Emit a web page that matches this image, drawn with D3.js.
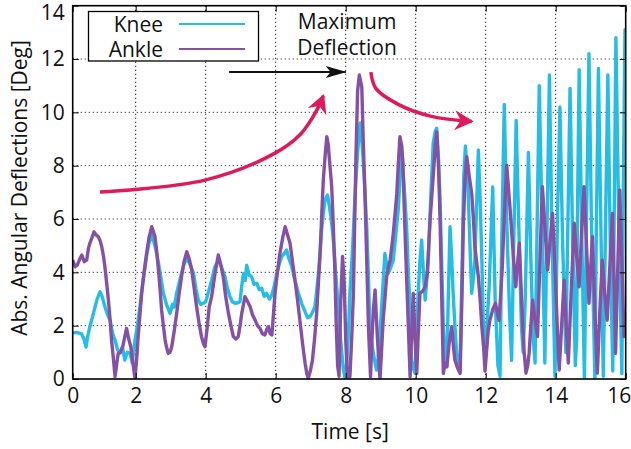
<!DOCTYPE html>
<html>
<head>
<meta charset="utf-8">
<script src="https://cdn.jsdelivr.net/npm/d3@7"></script>
<style>
  body { margin: 0; background: #fff; }
  svg { font-family: "Open Sans", Lato, sans-serif; }
</style>
</head>
<body>
<div id="chart"></div>
<script>
// time [s], angle [deg]
const knee = [
  [0.2,1.72],[0.3,1.75],[0.45,1.7],[0.52,1.5],[0.58,1.2],[0.63,1.6],[0.69,1.96],[0.76,2.3],[0.84,2.71],[0.9,3.0],
  [0.98,3.27],[1.04,3.1],[1.12,2.71],[1.2,2.4],[1.27,2.2],[1.34,1.7],[1.41,1.46],[1.48,1.1],[1.55,0.97],[1.62,1.2],
  [1.69,0.71],[1.76,1.0],[1.84,0.97],[1.9,0.6],[1.98,1.46],[2.05,2.0],[2.12,2.71],[2.2,3.6],[2.31,4.59],[2.38,5.1],
  [2.46,5.4],[2.55,5.0],[2.65,4.35],[2.72,3.8],[2.79,3.22],[2.88,2.8],[2.98,2.46],[3.05,2.8],[3.1,2.7],[3.17,3.22],
  [3.24,3.6],[3.31,3.97],[3.38,4.3],[3.46,4.53],[3.55,4.3],[3.65,3.97],[3.72,3.4],[3.79,2.96],[3.86,2.8],[3.93,2.84],
  [4.0,2.9],[4.07,3.22],[4.17,3.71],[4.26,4.2],[4.36,4.46],[4.45,4.2],[4.55,3.84],[4.62,3.4],[4.69,3.09],[4.76,2.9],
  [4.84,2.84],[4.92,2.86],[4.98,2.9],[5.03,3.5],[5.08,3.96],[5.13,3.7],[5.17,4.27],[5.24,3.9],[5.31,3.84],[5.38,3.55],
  [5.46,3.59],[5.53,3.35],[5.6,3.4],[5.67,3.1],[5.74,3.21],[5.82,3.0],[5.89,3.15],[5.96,3.5],[6.03,3.96],[6.1,4.3],
  [6.17,4.59],[6.24,4.7],[6.31,4.84],[6.38,4.5],[6.46,4.21],[6.55,3.7],[6.65,3.21],[6.75,2.8],[6.84,2.52],[6.91,2.3],
  [6.98,2.34],[7.05,2.5],[7.12,2.71],[7.17,3.3],[7.22,3.96],[7.27,4.8],[7.31,5.59],[7.36,6.2],[7.41,6.71],[7.48,6.9],
  [7.53,6.5],[7.58,6.09],[7.64,5.3],[7.69,4.46],[7.74,3.5],[7.79,2.71],[7.84,1.7],[7.89,0.96],[7.93,0.4],[7.98,0.04],
  [8.03,0.6],[8.08,1.8],[8.12,3.2],[8.2,5.0],[8.27,6.96],[8.34,8.5],[8.41,9.6],[8.46,9.0],[8.5,8.2],[8.55,7.0],
  [8.6,5.71],[8.65,3.8],[8.69,1.96],[8.74,1.4],[8.79,0.96],[8.84,0.6],[8.88,0.34],[8.93,0.8],[8.98,1.72],[9.05,3.2],
  [9.12,4.71],[9.17,4.3],[9.22,3.97],[9.29,4.2],[9.36,4.46],[9.43,5.4],[9.5,6.34],[9.55,7.5],[9.6,8.77],[9.64,7.8],
  [9.69,6.8],[9.74,5.71],[9.79,4.0],[9.84,2.59],[9.88,0.71],[9.93,0.4],[9.98,0.22],[10.03,1.8],[10.07,3.21],[10.12,4.4],
  [10.17,5.21],[10.22,4.0],[10.27,2.96],[10.31,3.6],[10.36,4.46],[10.43,6.8],[10.5,8.84],[10.56,9.3],[10.6,9.4],[10.65,8.3],
  [10.69,6.96],[10.74,4.5],[10.79,1.96],[10.84,0.9],[10.89,0.46],[10.93,3.0],[10.98,5.71],[11.03,4.5],[11.07,3.21],[11.12,2.0],
  [11.17,0.96],[11.22,0.6],[11.27,0.71],[11.33,4.5],[11.37,7.5],[11.42,8.74],[11.46,8.0],[11.5,6.96],[11.55,5.0],[11.6,3.21],
  [11.65,3.8],[11.69,4.46],[11.74,6.5],[11.79,8.59],[11.84,6.8],[11.89,4.46],[11.93,2.2],[11.98,0.7],[12.1,3.5],[12.2,7.2],
  [12.27,3.0],[12.35,0.5],[12.41,0.1],[12.45,4.5],[12.53,10.3],[12.6,6.0],[12.68,2.5],[12.74,0.7],[12.8,5.0],[12.87,9.7],
  [12.95,5.5],[13.02,2.0],[13.07,1.0],[13.13,3.0],[13.22,8.5],[13.3,4.0],[13.36,1.5],[13.41,0.6],[13.46,5.0],[13.53,11.0],
  [13.6,6.5],[13.69,0.6],[13.75,5.5],[13.82,11.4],[13.9,5.0],[13.98,0.1],[14.05,6.0],[14.12,10.2],[14.2,5.0],[14.29,1.0],
  [14.35,6.0],[14.41,10.9],[14.48,5.5],[14.56,0.5],[14.6,1.5],[14.62,6.0],[14.67,11.6],[14.75,5.0],[14.82,0.0],[14.88,6.0],
  [14.95,12.2],[15.02,6.0],[15.12,0.0],[15.16,5.5],[15.22,11.65],[15.3,5.0],[15.36,0.1],[15.42,5.5],[15.49,11.4],[15.56,5.0],
  [15.63,0.3],[15.67,6.0],[15.72,12.8],[15.8,6.0],[15.89,0.2],[15.93,7.0],[15.98,13.1],[16.0,9.0]
];

const ankle = [
  [0.2,4.46],[0.27,4.21],[0.33,4.27],[0.4,4.5],[0.46,4.65],[0.53,4.4],[0.6,4.46],[0.65,4.9],[0.69,5.09],[0.75,5.3],
  [0.81,5.52],[0.87,5.4],[0.93,5.34],[0.98,5.2],[1.03,4.96],[1.08,4.6],[1.12,4.21],[1.17,3.6],[1.22,2.96],[1.27,2.2],
  [1.31,1.46],[1.36,0.8],[1.41,0.09],[1.46,0.6],[1.5,0.96],[1.56,1.0],[1.63,1.21],[1.69,1.6],[1.74,1.9],[1.8,1.5],
  [1.86,1.21],[1.92,0.6],[1.98,0.03],[2.03,0.8],[2.07,1.59],[2.12,2.4],[2.17,3.21],[2.24,4.0],[2.31,4.71],[2.38,5.3],
  [2.46,5.71],[2.55,5.34],[2.6,4.8],[2.65,4.09],[2.7,3.3],[2.74,2.59],[2.79,2.0],[2.84,1.46],[2.88,1.2],[2.93,0.96],
  [2.98,1.0],[3.03,1.21],[3.1,1.8],[3.17,2.46],[3.24,3.2],[3.31,3.84],[3.38,4.4],[3.46,4.77],[3.53,4.5],[3.6,4.09],
  [3.67,3.4],[3.74,2.71],[3.81,2.1],[3.88,1.59],[3.93,1.35],[3.98,1.21],[4.04,1.9],[4.1,2.71],[4.17,3.09],[4.26,3.9],
  [4.36,4.65],[4.43,4.3],[4.5,3.84],[4.57,3.1],[4.65,2.46],[4.72,2.0],[4.79,1.59],[4.86,1.5],[4.93,1.59],[4.98,2.0],
  [5.03,2.46],[5.08,2.8],[5.12,3.09],[5.2,2.9],[5.27,2.71],[5.34,2.4],[5.41,2.21],[5.48,2.0],[5.55,1.9],[5.62,1.7],
  [5.69,1.65],[5.74,1.85],[5.79,1.96],[5.84,1.7],[5.89,1.65],[5.94,2.5],[5.98,3.21],[6.05,4.0],[6.12,4.71],[6.2,5.3],
  [6.27,5.71],[6.34,5.4],[6.41,5.09],[6.48,4.4],[6.55,3.71],[6.62,3.0],[6.69,2.21],[6.77,1.3],[6.84,0.59],[6.89,0.2],
  [6.93,0.03],[6.99,0.3],[7.05,0.71],[7.11,1.5],[7.17,2.46],[7.22,3.6],[7.27,4.71],[7.31,6.0],[7.36,7.46],[7.42,8.5],
  [7.46,9.09],[7.5,8.8],[7.55,8.0],[7.6,7.21],[7.65,5.6],[7.69,4.09],[7.73,2.0],[7.77,0.5],[7.81,0.1],[7.86,3.0],
  [7.91,4.6],[7.96,3.5],[8.0,1.5],[8.04,0.3],[8.08,0.0],[8.12,0.09],[8.17,1.5],[8.22,3.21],[8.29,8.21],[8.34,10.8],
  [8.39,11.4],[8.46,10.96],[8.5,9.0],[8.55,6.96],[8.6,4.5],[8.65,1.96],[8.71,0.09],[8.75,1.5],[8.79,2.59],[8.84,3.34],
  [8.87,2.5],[8.9,1.71],[8.94,0.8],[8.98,0.0],[9.03,1.2],[9.07,2.21],[9.12,3.0],[9.17,3.84],[9.22,4.2],[9.27,4.46],
  [9.32,5.0],[9.36,5.46],[9.41,6.2],[9.46,6.96],[9.5,8.0],[9.55,9.09],[9.59,8.8],[9.63,8.21],[9.69,5.71],[9.74,3.8],
  [9.79,1.96],[9.84,0.09],[9.88,1.5],[9.93,3.21],[9.98,1.5],[10.03,0.21],[10.07,1.6],[10.12,3.21],[10.2,3.3],[10.27,3.46],
  [10.33,3.96],[10.41,5.96],[10.5,7.59],[10.56,8.8],[10.6,9.27],[10.65,8.0],[10.69,6.34],[10.74,3.3],[10.79,0.21],[10.84,0.6],
  [10.89,0.46],[10.96,1.4],[11.03,1.96],[11.08,1.2],[11.12,0.71],[11.2,0.4],[11.27,0.21],[11.32,3.0],[11.36,5.71],[11.41,7.5],
  [11.46,8.34],[11.53,7.6],[11.6,6.96],[11.65,6.0],[11.69,4.96],[11.74,4.4],[11.79,3.84],[11.84,3.0],[11.89,1.96],[11.94,1.2],
  [11.98,0.3],[12.02,0.96],[12.07,1.8],[12.12,2.21],[12.2,2.6],[12.28,2.84],[12.33,2.5],[12.38,2.2],[12.43,3.2],[12.47,4.09],
  [12.53,6.0],[12.6,8.02],[12.66,7.0],[12.72,5.96],[12.79,4.6],[12.86,3.46],[12.91,4.3],[12.96,5.09],[13.0,3.8],[13.05,2.2],
  [13.1,1.0],[13.15,0.22],[13.2,0.5],[13.24,0.96],[13.29,2.0],[13.34,2.96],[13.41,2.2],[13.48,1.59],[13.55,4.5],[13.62,7.21],
  [13.7,5.5],[13.77,4.09],[13.84,5.2],[13.91,6.21],[13.96,4.8],[14.0,3.46],[14.05,1.8],[14.1,0.34],[14.17,2.0],[14.24,3.71],
  [14.3,2.0],[14.36,0.6],[14.45,3.5],[14.53,5.84],[14.6,4.6],[14.67,3.46],[14.74,5.5],[14.81,7.21],[14.88,5.0],[14.95,2.84],
  [15.0,4.2],[15.05,5.34],[15.12,2.5],[15.19,0.22],[15.26,2.5],[15.33,4.46],[15.4,3.2],[15.47,2.21],[15.55,4.3],[15.62,6.21],
  [15.67,3.5],[15.71,0.96],[15.77,4.0],[15.83,7.09],[15.9,4.0],[15.95,1.59],[16.0,2.46]
];

const seriesNames = ["Knee", "Ankle"];
const seriesColors = ["#25bde4", "#8451a4"];
const xTicks = [0.2, 2, 4, 6, 8, 10, 12, 14, 16];   // left edge carries the "0" label
const yTicks = [0, 2, 4, 6, 8, 10, 12, 14];
const xGrid = [2, 4, 6, 8, 10, 12, 14];
const yGrid = [2, 4, 6, 8, 10, 12];

const width = 631, height = 449;
const plot = { left: 72.7, right: 625.7, top: 5.7, bottom: 379 };

const svg = d3.select("#chart").append("svg")
    .attr("width", width)
    .attr("height", height);

const x = d3.scaleLinear().domain([0.2, 16]).range([plot.left, plot.right]);
const y = d3.scaleLinear().domain([0, 14]).range([plot.bottom, plot.top]);

// grid
svg.append("g").selectAll("line").data(xGrid).enter().append("line")
    .attr("x1", d => x(d)).attr("x2", d => x(d))
    .attr("y1", plot.top).attr("y2", plot.bottom)
    .attr("stroke", "#222").attr("stroke-width", 1)
    .attr("stroke-dasharray", "1.3,2.7");
svg.append("g").selectAll("line").data(yGrid).enter().append("line")
    .attr("x1", plot.left).attr("x2", plot.right)
    .attr("y1", d => y(d)).attr("y2", d => y(d))
    .attr("stroke", "#444").attr("stroke-width", 1)
    .attr("stroke-dasharray", "1.3,2.7");

// data lines
const line = d3.line().x(d => x(d[0])).y(d => y(d[1]));
svg.append("defs").append("clipPath").attr("id", "clip")
    .append("rect")
    .attr("x", plot.left).attr("y", plot.top)
    .attr("width", plot.right - plot.left).attr("height", plot.bottom - plot.top);

const lines = svg.append("g").attr("clip-path", "url(#clip)");
[knee, ankle].forEach((s, i) => {
    lines.append("path")
        .datum(s)
        .attr("d", line)
        .attr("fill", "none")
        .attr("stroke", seriesColors[i])
        .attr("stroke-width", 3.4)
        .attr("stroke-linejoin", "round");
});

// axes
const fontSize = 21;
svg.append("g")
    .attr("transform", "translate(0," + plot.bottom + ")")
    .call(d3.axisBottom(x).tickValues(xTicks).tickFormat(d => Math.round(d)).tickSize(-6).tickPadding(9))
    .selectAll(".tick text")
    .filter(d => d === 16)
    .attr("text-anchor", "end").attr("x", 5);
svg.append("g")
    .attr("transform", "translate(" + plot.left + ",0)")
    .call(d3.axisLeft(y).tickValues(yTicks).tickSize(-6).tickPadding(8))
    .selectAll(".tick text")
    .filter(d => d === 14)
    .attr("y", 7);
svg.append("g")
    .attr("transform", "translate(0," + plot.top + ")")
    .call(d3.axisTop(x).tickValues(xTicks).tickSize(-6).tickFormat(""));
svg.append("g")
    .attr("transform", "translate(" + plot.right + ",0)")
    .call(d3.axisRight(y).tickValues(yTicks).tickSize(-6).tickFormat(""));

svg.selectAll(".domain").remove();
svg.selectAll(".tick line").attr("stroke", "#000").attr("stroke-width", 1);
svg.selectAll(".tick text")
    .attr("font-size", fontSize)
    .attr("font-family", "'Open Sans', Lato, sans-serif")
    .attr("fill", "#111");

svg.append("rect")
    .attr("x", plot.left).attr("y", plot.top)
    .attr("width", plot.right - plot.left).attr("height", plot.bottom - plot.top)
    .attr("fill", "none").attr("stroke", "#000").attr("stroke-width", 1.6);

// axis titles
svg.append("text")
    .attr("x", (plot.left + plot.right) / 2 + 1)
    .attr("y", 439)
    .attr("text-anchor", "middle")
    .attr("font-size", fontSize)
    .attr("fill", "#111")
    .text("Time [s]");
svg.append("text")
    .attr("transform", "translate(27," + 188 + ") rotate(-90)")
    .attr("text-anchor", "middle")
    .attr("font-size", fontSize)
    .attr("fill", "#111")
    .text("Abs. Angular Deflections [Deg]");

// legend
const legend = svg.append("g");
legend.append("rect")
    .attr("x", 88.5).attr("y", 11.5).attr("width", 170).attr("height", 49.5)
    .attr("fill", "#fff").attr("stroke", "#000").attr("stroke-width", 1.3);
seriesNames.forEach((name, i) => {
    const ly = 24 + i * 25;
    legend.append("text")
        .attr("x", 163).attr("y", ly + 7.5)
        .attr("text-anchor", "end")
        .attr("font-size", fontSize)
        .attr("fill", "#111")
        .text(name);
    legend.append("line")
        .attr("x1", 179).attr("x2", 245)
        .attr("y1", ly).attr("y2", ly)
        .attr("stroke", seriesColors[i]).attr("stroke-width", 2);
});

// annotations (placed in data units)
const red = "#de1a5b";
const defs = svg.select("defs");
defs.append("marker")
    .attr("id", "redhead").attr("markerUnits", "userSpaceOnUse")
    .attr("viewBox", "-20 -12 24 24").attr("markerWidth", 24).attr("markerHeight", 24)
    .attr("refX", 0).attr("refY", 0).attr("orient", "auto")
    .append("path").attr("d", "M2,0 L-17,-10 L-11,0 L-17,10 Z").attr("fill", red);
defs.append("marker")
    .attr("id", "blackhead").attr("markerUnits", "userSpaceOnUse")
    .attr("viewBox", "-22 -8 24 16").attr("markerWidth", 24).attr("markerHeight", 16)
    .attr("refX", 0).attr("refY", 0).attr("orient", "auto")
    .append("path").attr("d", "M1,0 L-20,-6 L-15,0 L-20,6 Z").attr("fill", "#111");

const arrowRise = [[0.98, 7.01], [3.98, 7.46], [5.98, 8.47], [6.72, 9.2], [7.18, 10.1], [7.36, 10.62]];
const arrowFall = [[8.72, 11.51], [8.86, 10.9], [9.5, 10.3], [10.45, 9.85], [11.6, 9.66]];
const smooth = d3.line().x(d => x(d[0])).y(d => y(d[1])).curve(d3.curveCatmullRom);
svg.append("path").datum(arrowRise).attr("d", smooth)
    .attr("fill", "none").attr("stroke", red).attr("stroke-width", 3.5)
    .attr("marker-end", "url(#redhead)");
svg.append("path").datum(arrowFall).attr("d", smooth)
    .attr("fill", "none").attr("stroke", red).attr("stroke-width", 3.5)
    .attr("marker-end", "url(#redhead)");

svg.append("line")
    .attr("x1", x(4.67)).attr("x2", x(8.0))
    .attr("y1", y(11.51)).attr("y2", y(11.51))
    .attr("stroke", "#111").attr("stroke-width", 2)
    .attr("marker-end", "url(#blackhead)");

const note = svg.append("text")
    .attr("x", x(8.04)).attr("text-anchor", "middle")
    .attr("font-size", fontSize).attr("fill", "#111");
note.append("tspan").attr("x", x(8.04)).attr("y", 29).text("Maximum");
note.append("tspan").attr("x", x(8.04)).attr("y", 55).text("Deflection");
</script>
</body>
</html>
